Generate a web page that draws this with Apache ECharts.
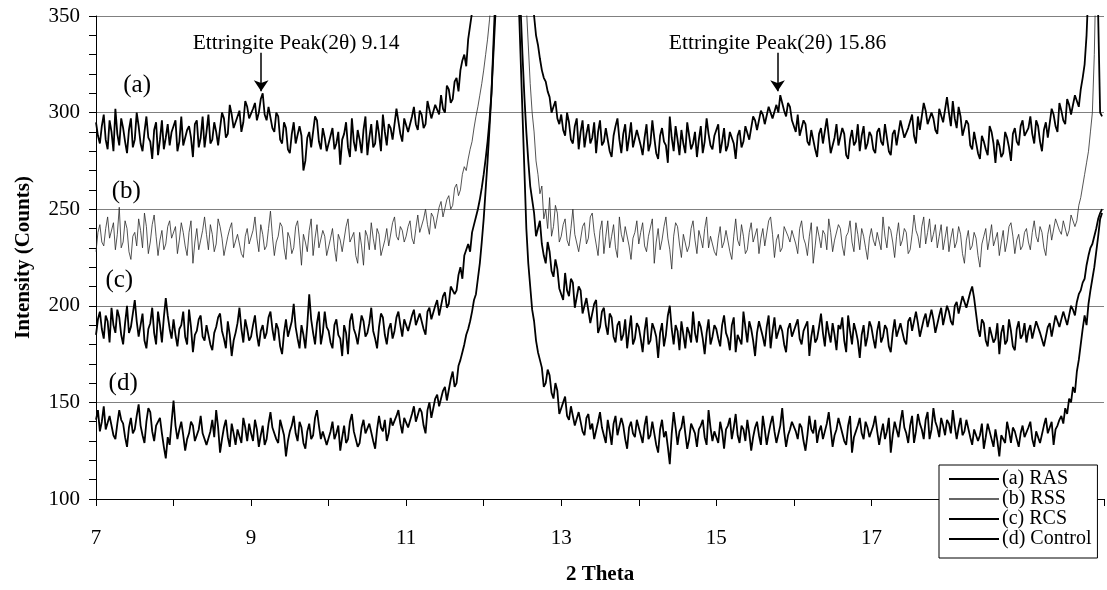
<!DOCTYPE html>
<html>
<head>
<meta charset="utf-8">
<script src="https://cdn.jsdelivr.net/npm/echarts@6/dist/echarts.min.js"></script>
<style>
html,body{margin:0;padding:0;background:#fff;}
#chart{width:1107px;height:590px;}
</style>
</head>
<body>
<div id="chart"></div>
<script>
// Scan grid: one row per degree starting at 7, 40 readings per degree
const thetaStart = 7;
const thetaStep = 0.025;

// (a) RAS — rows 7°,8°,...,19°
const rasA = [
 [295,288,284,293,299,286,281,296,290,280,302,289,283,297,292,285,279,291,297,282,286,300,293,284,280,290,298,287,285,276,291,295,278,286,296,281,287,294,283,290],
 [289,296,280,285,298,283,284,291,293,287,277,294,296,282,287,298,282,290,299,284,286,295,290,283,292,300,297,287,289,304,299,292,293,298,301,290,295,306,303,297],
 [298,302,305,296,300,307,310,299,296,303,304,292,290,300,298,286,284,295,292,281,279,289,295,284,283,293,288,270,275,287,290,282,283,298,296,285,281,292,287,280],
 [279,288,292,281,284,290,273,286,289,295,282,277,297,285,280,291,286,279,291,298,278,287,294,282,284,296,289,280,299,290,283,294,292,286,287,302,301,289,285,297],
 [296,290,289,298,303,294,291,301,299,292,294,306,305,297,296,304,303,299,309,302,300,314,312,305,307,316,318,311,322,327,330,324,338,345,352,360,370,382,395,410],
 [430,455,480,520,560,600,650,700,760,800,850,870,880,860,820,760,700,640,580,520,470,440,410,390,370,362,350,340,335,328,322,318,316,311,308,300,303,306,297,294],
 [299,291,288,300,295,286,284,293,297,281,290,296,282,289,294,284,287,295,279,290,296,283,285,292,291,280,277,288,293,297,286,279,289,294,280,287,295,282,283,291],
 [290,283,278,287,294,280,284,296,287,279,276,288,292,285,283,274,298,287,280,293,286,278,291,284,279,295,288,281,284,290,277,286,293,279,285,297,289,283,281,288],
 [287,294,279,285,292,280,283,290,289,284,276,288,291,282,285,293,294,286,287,298,296,291,290,301,299,294,293,303,302,297,296,304,300,309,308,301,298,305,303,296],
 [295,290,299,288,287,296,294,285,283,291,290,281,277,289,292,284,284,297,288,279,279,287,294,283,282,292,289,278,276,286,291,283,285,294,280,288,293,281,284,290],
 [288,281,279,290,292,285,283,294,287,280,278,289,291,283,284,296,295,287,286,292,293,299,288,284,298,291,290,305,301,294,293,300,297,291,289,302,303,295,294,308],
 [300,293,306,297,292,303,298,288,287,296,294,283,281,290,289,279,276,288,285,281,278,293,290,284,274,286,283,277,279,290,287,282,275,289,292,285,283,293,296,288],
 [287,292,298,289,284,296,293,285,280,291,295,287,288,302,299,293,290,305,301,296,294,307,304,299,298,309,306,303,312,318,325,340,365,400,430,440,400,350,300,298]
];

// (b) RSS
const rssB = [
 [228,238,242,233,231,240,246,235,236,243,229,237,251,230,233,244,240,228,224,236,238,231,245,239,230,248,241,227,233,242,247,236,226,234,239,229,232,241,244,235],
 [235,241,227,234,243,238,231,226,238,244,222,233,240,229,234,239,246,237,229,242,237,228,232,245,241,235,226,231,236,240,243,230,230,237,238,227,225,236,240,232],
 [233,239,246,235,228,242,237,229,231,240,249,236,226,233,236,243,241,230,224,238,235,227,230,241,244,234,221,237,233,228,239,245,226,235,242,230,231,239,236,226],
 [227,235,240,230,223,237,234,228,229,241,245,233,232,238,226,222,238,231,221,239,236,229,243,235,229,240,237,226,225,234,240,231,232,243,246,236,234,241,239,233],
 [236,241,244,235,232,240,247,238,239,245,250,242,237,248,246,240,241,251,254,246,245,255,257,250,252,261,263,257,260,268,272,270,276,281,285,292,298,303,309,315],
 [322,330,338,348,360,390,420,470,520,580,640,680,700,690,660,600,540,490,440,410,390,372,355,335,315,300,290,275,268,258,262,245,250,240,256,236,241,252,248,233],
 [236,242,245,234,231,240,250,237,238,228,229,241,243,232,235,246,248,238,232,226,239,244,227,236,244,230,236,242,230,225,246,237,233,241,240,231,224,235,238,244],
 [232,238,243,231,228,236,237,245,222,233,240,229,234,241,246,235,229,219,236,243,241,232,225,237,238,228,231,240,244,234,227,239,235,230,240,246,230,236,237,228],
 [226,235,241,230,233,239,238,228,224,236,245,234,231,242,236,227,229,238,243,233,234,240,227,235,240,231,232,244,246,237,225,234,237,228,230,241,242,236,233,239],
 [238,232,227,240,244,235,232,226,236,243,222,231,241,236,230,239,237,229,245,238,228,234,235,242,240,231,226,236,238,244,233,228,243,237,229,240,236,230,224,235],
 [240,234,231,238,237,229,246,236,230,241,239,233,225,236,243,231,234,240,238,227,229,237,247,239,236,230,241,246,232,238,245,233,237,242,230,236,242,229,235,241],
 [228,235,240,230,233,241,237,227,222,234,239,229,231,238,235,226,220,232,236,240,229,235,242,231,232,238,226,233,239,228,233,241,243,236,227,234,237,229,231,238],
 [240,233,229,238,244,236,233,241,238,230,226,237,242,234,235,245,246,239,237,244,243,236,239,247,248,241,244,252,256,262,268,274,280,290,300,330,380,400,420,360]
];

// (c) RCS
const rcsC = [
 [185,193,197,188,183,195,192,181,199,190,186,198,194,185,180,191,200,186,189,196,203,192,184,190,196,182,178,188,191,199,186,180,197,190,181,194,204,195,188,183],
 [193,185,179,188,190,197,184,180,198,189,176,185,187,193,195,184,182,190,191,180,177,186,189,194,196,187,183,178,192,185,174,182,186,191,199,188,181,193,188,182],
 [184,190,195,185,179,187,190,183,186,194,197,188,182,191,188,179,175,186,193,184,185,192,201,189,183,178,190,185,178,190,206,193,186,180,191,197,180,186,197,189],
 [187,181,178,190,193,185,183,174,190,186,175,192,196,188,185,180,181,195,192,184,186,191,199,187,183,178,189,196,194,185,180,188,191,183,187,194,197,190,184,193],
 [192,187,186,195,198,190,189,196,195,188,185,197,199,193,192,200,203,195,196,205,207,199,201,210,211,206,208,216,220,214,226,229,232,228,238,242,246,250,255,261],
 [268,276,285,296,310,330,350,385,420,470,520,545,560,540,510,475,440,410,380,355,330,308,290,275,262,255,248,236,240,244,232,226,222,233,228,218,215,224,219,209],
 [210,203,217,208,205,214,212,199,200,210,208,196,196,204,205,191,192,201,203,186,189,197,199,190,185,196,194,184,181,190,192,182,185,193,178,187,195,180,183,191],
 [189,183,176,187,194,180,182,191,188,184,173,186,191,179,185,195,200,188,180,190,187,177,192,185,178,189,186,181,197,186,181,192,189,183,175,186,193,180,184,190],
 [188,183,179,190,195,186,183,177,190,194,176,185,185,180,197,189,181,192,188,182,174,186,192,188,184,179,189,195,178,187,194,183,182,190,187,180,176,188,191,184],
 [185,190,193,183,180,187,188,192,174,184,190,181,183,189,196,186,179,192,186,181,191,185,177,190,188,194,182,176,195,187,180,191,187,182,173,185,190,179,184,192],
 [189,183,178,187,192,181,184,190,188,179,176,186,193,184,185,191,190,182,180,192,194,187,186,197,191,184,183,193,196,189,188,198,193,186,185,195,199,190,191,200],
 [197,192,190,200,202,196,195,205,204,199,198,207,210,204,196,188,184,193,191,182,179,189,188,181,183,191,175,186,190,180,182,193,187,179,177,188,192,183,185,191],
 [181,187,190,183,184,192,193,186,186,179,180,189,191,184,185,195,194,189,188,197,196,190,191,200,198,195,202,206,208,212,214,221,226,230,232,236,240,245,248,250]
];

// (d) Control
const controlD = [
 [141,146,135,140,148,136,137,143,144,133,131,139,146,141,139,132,127,137,142,134,136,143,149,138,133,129,140,147,145,135,130,138,138,142,134,127,121,132,128,140],
 [151,138,131,136,140,133,125,131,134,140,138,130,129,136,143,134,133,128,127,135,141,132,146,137,124,131,137,141,132,127,139,134,128,136,135,129,142,137,130,139],
 [134,130,141,136,127,133,138,128,131,139,145,137,136,131,129,141,140,133,122,130,135,138,143,134,130,140,137,129,126,135,139,131,133,142,146,138,131,135,136,128],
 [128,135,140,131,134,138,125,132,138,129,131,140,144,135,136,127,129,137,141,134,133,139,138,130,126,136,143,137,135,141,130,134,142,138,137,143,146,139,134,142],
 [141,137,136,144,148,140,139,147,145,138,134,146,150,142,143,152,154,148,147,156,158,151,152,162,166,158,160,169,172,176,180,185,188,192,197,203,206,214,222,233],
 [245,260,275,292,310,335,360,395,430,475,520,545,560,530,500,460,420,390,360,330,300,270,240,222,210,198,192,182,176,172,168,158,160,167,164,155,152,160,156,144],
 [147,150,153,143,141,148,149,138,137,145,146,135,133,142,144,136,139,131,130,140,145,137,136,129,141,135,128,139,143,133,134,142,138,131,126,137,140,134,132,141],
 [137,133,129,138,143,131,133,140,139,128,124,136,141,132,135,127,118,134,145,137,128,135,137,143,134,126,131,139,140,134,127,136,138,141,132,128,146,137,130,135],
 [134,129,140,135,126,136,138,142,131,137,144,133,129,138,136,130,141,134,125,132,137,140,133,128,143,136,128,134,139,143,135,129,130,138,147,135,127,133,136,140],
 [140,135,131,139,137,130,125,133,143,136,134,141,129,135,138,131,132,139,145,136,127,133,136,142,141,134,130,128,138,143,124,132,135,138,142,134,131,140,137,132],
 [133,138,143,135,128,134,139,131,135,142,124,133,140,136,132,140,146,137,134,129,138,143,129,135,144,139,136,131,141,145,131,136,147,140,137,132,142,138,133,141],
 [139,134,146,138,131,137,142,133,135,141,140,132,128,136,137,130,133,139,126,132,139,135,131,127,136,130,122,133,134,129,140,135,129,137,135,131,127,134,138,132],
 [132,137,140,131,127,135,136,129,130,138,142,134,133,140,128,136,138,141,143,139,147,144,152,150,158,155,166,172,180,188,195,190,201,208,214,220,228,236,245,248]
];

const seriesNames = ['(a) RAS', '(b) RSS', '(c) RCS', '(d) Control'];
const curveTags = ['(a)', '(b)', '(c)', '(d)'];
const curveTagPos = [[7.53, 314], [7.39, 259], [7.30, 213], [7.35, 160]];

const xLabelValues = [7, 9, 11, 13, 15, 17, 19];
const yLabelValues = [100, 150, 200, 250, 300, 350];

// Ettringite annotations
const peakText = ['Ettringite Peak(2\u03b8) 9.14', 'Ettringite Peak(2\u03b8) 15.86'];
const peakArrowX = [9.13, 15.79];
const peakArrowFromTo = [331, 311];
const peakTextPos = [[9.58, 336], [15.79, 336]];

const FONT = '"Liberation Serif", "Times New Roman", serif';

function toPairs(rows) {
  const out = [];
  rows.forEach((row, r) => {
    row.forEach((v, j) => {
      out.push([+(thetaStart + r + j * thetaStep).toFixed(3), v]);
    });
  });
  return out;
}

const chart = echarts.init(document.getElementById('chart'), null, { renderer: 'canvas' });

const allData = [rasA, rssB, rcsC, controlD];
const widths = [1.8, 0.8, 1.8, 1.8];
const colors = ['#000', '#2a2a2a', '#000', '#000'];
const legendColors = ['#000', '#666', '#000', '#000'];

const series = allData.map((rows, i) => {
  const s = {
    name: seriesNames[i],
    type: 'line',
    data: toPairs(rows),
    symbol: 'none',
    showSymbol: false,
    clip: true,
    lineStyle: { color: colors[i], width: widths[i] },
    itemStyle: { color: colors[i] },
    z: 3,
    markPoint: {
      symbol: 'circle', symbolSize: 0, silent: true,
      label: { show: true, position: 'inside', color: '#000', fontSize: 25, fontFamily: FONT },
      data: [{ coord: curveTagPos[i], label: { formatter: curveTags[i] } }]
    }
  };
  if (i === 0) {
    s.markLine = {
      silent: true,
      symbol: ['none', 'arrow'],
      symbolSize: 11,
      label: { show: false },
      lineStyle: { color: '#000', width: 1.5, type: 'solid' },
      data: peakArrowX.map(x => [{ coord: [x, peakArrowFromTo[0]] }, { coord: [x, peakArrowFromTo[1]] }])
    };
    s.markPoint.data.push(
      { coord: peakTextPos[0], label: { formatter: peakText[0], fontSize: 21.5 } },
      { coord: peakTextPos[1], label: { formatter: peakText[1], fontSize: 21.5 } }
    );
  }
  return s;
});

chart.setOption({
  animation: false,
  backgroundColor: '#fff',
  grid: { left: 96, top: 16, width: 1013, height: 491, containLabel: false },
  legend: {
    orient: 'vertical',
    left: 939, top: 465,
    padding: [4, 6, 9, 10],
    icon: 'rect',
    itemWidth: 50, itemHeight: 2, itemGap: 0,
    backgroundColor: '#fff',
    borderColor: '#000', borderWidth: 1, borderRadius: 0,
    selectedMode: false,
    textStyle: { fontFamily: FONT, fontSize: 20, lineHeight: 20, color: '#000', padding: [0, 0, 0, -2] },
    data: seriesNames.map((n, i) => ({ name: n, itemStyle: { color: legendColors[i] } }))
  },
  xAxis: {
    type: 'value', min: 7, max: 20, interval: 1,
    name: '2 Theta', nameLocation: 'middle', nameGap: 65,
    nameTextStyle: { fontFamily: FONT, fontSize: 21, fontWeight: 'bold', color: '#000' },
    axisLine: { show: true, onZero: false, lineStyle: { color: '#000', width: 1 } },
    axisTick: { show: true, inside: false, length: 7, lineStyle: { color: '#000' } },
    axisLabel: { fontFamily: FONT, fontSize: 21, color: '#000', margin: 29,
      formatter: v => (xLabelValues.indexOf(v) >= 0 ? String(v) : '') },
    splitLine: { show: false }
  },
  yAxis: {
    type: 'value', min: 100, max: 350, interval: 50,
    name: 'Intensity (Counts)', nameLocation: 'middle', nameGap: 62,
    nameTextStyle: { fontFamily: FONT, fontSize: 21, fontWeight: 'bold', color: '#000' },
    axisLine: { show: true, lineStyle: { color: '#000', width: 1 } },
    axisTick: { show: true, inside: false, length: 7, lineStyle: { color: '#000' } },
    minorTick: { show: true, splitNumber: 5, length: 7, lineStyle: { color: '#000' } },
    axisLabel: { fontFamily: FONT, fontSize: 21, color: '#000', margin: 16,
      formatter: v => (yLabelValues.indexOf(v) >= 0 ? String(v) : '') },
    splitLine: { show: true, lineStyle: { color: '#808080', width: 1 } }
  },
  series: series
});
</script>
</body>
</html>
